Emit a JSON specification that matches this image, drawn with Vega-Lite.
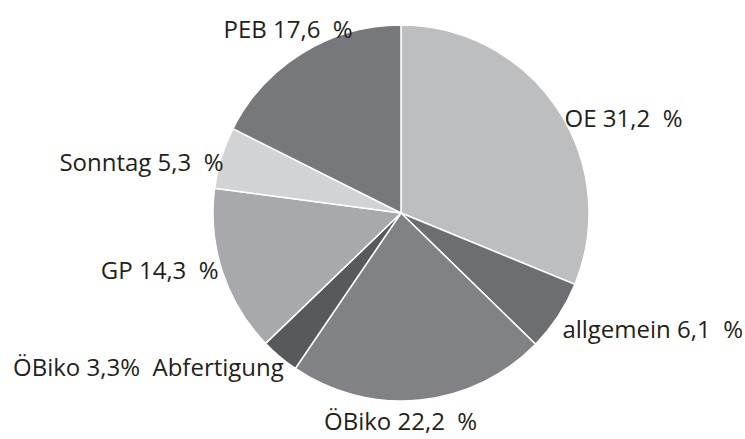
{
  "$schema": "https://vega.github.io/schema/vega-lite/v6.json",
  "width": 376,
  "height": 376,
  "autosize": "none",
  "padding": {"left": 213, "top": 25, "right": 156, "bottom": 38},
  "background": "white",
  "config": {"view": {"stroke": "#f3f3f3"}, "text": {"font": "Open Sans", "fontSize": 24, "color": "#231f20"}},
  "data": {"values": [
    {"category": "OE", "label": "OE 31,2\u00a0 %", "value": 31.2, "order": 1},
    {"category": "allgemein", "label": "allgemein 6,1\u00a0 %", "value": 6.1, "order": 2},
    {"category": "ÖBiko", "label": "ÖBiko 22,2\u00a0 %", "value": 22.2, "order": 3},
    {"category": "ÖBiko Abfertigung", "label": "ÖBiko 3,3%\u00a0 Abfertigung", "value": 3.3, "order": 4},
    {"category": "GP", "label": "GP 14,3\u00a0 %", "value": 14.3, "order": 5},
    {"category": "Sonntag", "label": "Sonntag 5,3\u00a0 %", "value": 5.3, "order": 6},
    {"category": "PEB", "label": "PEB 17,6\u00a0 %", "value": 17.6, "order": 7}
  ]},
  "transform": [
    {"stack": "value", "groupby": [], "sort": [{"field": "order"}], "as": ["v0", "v1"]},
    {"calculate": "(datum.v0 + datum.v1) / 2", "as": "mid"}
  ],
  "layer": [
    {
      "mark": {"type": "arc", "stroke": "white", "strokeWidth": 1.5},
      "encoding": {
        "theta": {"field": "v0", "type": "quantitative", "scale": {"domain": [0, 100]}},
        "theta2": {"field": "v1"},
        "color": {"field": "category", "type": "nominal", "legend": null,
          "scale": {"domain": ["OE", "allgemein", "ÖBiko", "ÖBiko Abfertigung", "GP", "Sonntag", "PEB"],
                    "range": ["#bcbec0", "#6d6e71", "#808285", "#58595b", "#a7a9ac", "#d1d3d4", "#77787b"]}}
      }
    },
    {"transform": [{"filter": "datum.category == 'OE'"}], "mark": {"type": "text", "radius": 215, "dx": 44, "dy": 27},
     "encoding": {"theta": {"field": "mid", "type": "quantitative"}, "text": {"field": "label"}}},
    {"transform": [{"filter": "datum.category == 'allgemein'"}], "mark": {"type": "text", "radius": 215, "dx": 72, "dy": 0},
     "encoding": {"theta": {"field": "mid", "type": "quantitative"}, "text": {"field": "label"}}},
    {"transform": [{"filter": "datum.category == 'ÖBiko'"}], "mark": {"type": "text", "radius": 215, "dx": -22, "dy": -4},
     "encoding": {"theta": {"field": "mid", "type": "quantitative"}, "text": {"field": "label"}}},
    {"transform": [{"filter": "datum.category == 'ÖBiko Abfertigung'"}], "mark": {"type": "text", "radius": 215, "dx": -114, "dy": -8},
     "encoding": {"theta": {"field": "mid", "type": "quantitative"}, "text": {"field": "label"}}},
    {"transform": [{"filter": "datum.category == 'GP'"}], "mark": {"type": "text", "radius": 215, "dx": -37, "dy": -8},
     "encoding": {"theta": {"field": "mid", "type": "quantitative"}, "text": {"field": "label"}}},
    {"transform": [{"filter": "datum.category == 'Sonntag'"}], "mark": {"type": "text", "radius": 215, "dx": -54, "dy": 14},
     "encoding": {"theta": {"field": "mid", "type": "quantitative"}, "text": {"field": "label"}}},
    {"transform": [{"filter": "datum.category == 'PEB'"}], "mark": {"type": "text", "radius": 215, "dx": 0, "dy": 1},
     "encoding": {"theta": {"field": "mid", "type": "quantitative"}, "text": {"field": "label"}}}
  ]
}
